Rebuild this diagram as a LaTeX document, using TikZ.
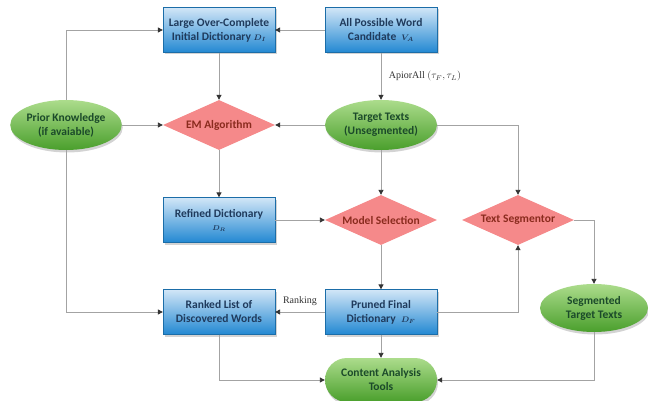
\documentclass[tikz,border=0pt]{standalone}
\usepackage{amsmath}
\usepackage{fontspec}
\setmainfont{Liberation Serif}
\newfontfamily\carl{Carlito}
\usetikzlibrary{shapes.geometric,shadows,arrows.meta}
\definecolor{boxtop}{HTML}{D2E6F7}
\definecolor{boxbot}{HTML}{2288D2}
\definecolor{boxtxt}{HTML}{1F3A5C}
\definecolor{dia}{HTML}{F5898A}
\definecolor{diatxt}{HTML}{8A2B1E}
\definecolor{elltop}{HTML}{ACDC8C}
\definecolor{ellbot}{HTML}{4A9F2C}
\definecolor{elltxt}{HTML}{1B4A2A}
\definecolor{conn}{HTML}{A3A3A3}
\tikzset{
  nodefont/.style={font=\carl\bfseries\fontsize{11.5}{14}\selectfont},
  bbox/.style={rectangle, minimum width=112pt, minimum height=45pt, align=center,
    top color=boxtop, bottom color=boxbot, draw=boxbot!80!black, line width=0.3pt,
    text=boxtxt, nodefont, inner sep=1pt,
    drop shadow={shadow xshift=1.5pt, shadow yshift=-2pt, opacity=0.35}},
  ddia/.style={diamond, minimum width=112pt, minimum height=50pt, inner sep=0pt,
    aspect=2.24, fill=dia, text=diatxt, align=center, nodefont},
  gell/.style={ellipse, minimum width=112pt, minimum height=50pt, inner sep=0pt, align=center,
    top color=elltop, bottom color=ellbot, text=elltxt, nodefont,
    drop shadow={shadow xshift=1pt, shadow yshift=-2.5pt, opacity=0.35}},
  gpill/.style={rectangle, rounded corners=22pt, minimum width=112pt, minimum height=44pt,
    align=center, top color=elltop, bottom color=ellbot, text=elltxt, nodefont,
    drop shadow={shadow xshift=1pt, shadow yshift=-2.5pt, opacity=0.35}},
  cn/.style={draw=conn, line width=0.9pt},
  ar/.style={cn, -{Triangle[length=5pt, width=5pt, fill=black!80, color=black!80]}},
  lbl/.style={font=\fontsize{10}{12}\selectfont, text=black!80}
}
\newcommand{\dsym}[1]{{\footnotesize$\boldsymbol{#1}$}}
\begin{document}
\begin{tikzpicture}[x=1pt, y=-1pt]
\useasboundingbox (0,0) rectangle (648,401);
\node[bbox] (large) at (219,30) {Large Over-Complete\\Initial Dictionary \dsym{D_I}};
\node[bbox] (allp) at (381,30) {All Possible Word\\Candidate \ \dsym{V_A}};
\node[gell, minimum width=110pt] (prior) at (66,125) {Prior Knowledge\\(if avaiable)};
\node[ddia] (em) at (219,125) {EM Algorithm};
\node[gell] (target) at (381,125) {Target Texts\\(Unsegmented)};
\node[bbox] (refined) at (219,220) {Refined Dictionary\\[-1pt]{\scriptsize$\boldsymbol{D_R}$}};
\node[ddia] (model) at (381,220) {Model Selection};
\node[ddia] (seg) at (518,220) {Text Segmentor};
\node[bbox] (ranked) at (219,312) {Ranked List of\\Discovered Words};
\node[bbox] (pruned) at (381,312) {Pruned Final\\Dictionary \ \dsym{D_F}};
\node[gell, minimum width=108pt, minimum height=48pt] (segtt) at (594,308) {Segmented\\Target Texts};
\node[gpill] (content) at (381,380) {Content Analysis\\Tools};

\draw[ar] (allp.west) -- (large.east);
\draw[ar] (prior.north) |- (large.west);
\draw[ar] (prior.south) |- (ranked.west);
\draw[ar] (prior.east) -- (em.west);
\draw[ar] (target.west) -- (em.east);
\draw[ar] (large.south) -- (em.north);
\draw[ar] (allp.south) -- node[lbl, right=4pt, pos=0.5] {ApiorAll $(\tau_F,\tau_L)$} (target.north);
\draw[ar] (em.south) -- (refined.north);
\draw[ar] (target.south) -- (model.north);
\draw[ar] (target.east) -| (seg.north);
\draw[ar] (refined.east) -- (model.west);
\draw[ar] (model.south) -- (pruned.north);
\draw[ar] (seg.east) -| (segtt.north);
\draw[ar] (pruned.east) -| (seg.south);
\draw[ar] (pruned.west) -- node[lbl, above=3pt] {Ranking} (ranked.east);
\draw[ar] (pruned.south) -- (content.north);
\draw[ar] (ranked.south) |- (content.west);
\draw[ar] (segtt.south) |- (content.east);
\end{tikzpicture}
\end{document}
